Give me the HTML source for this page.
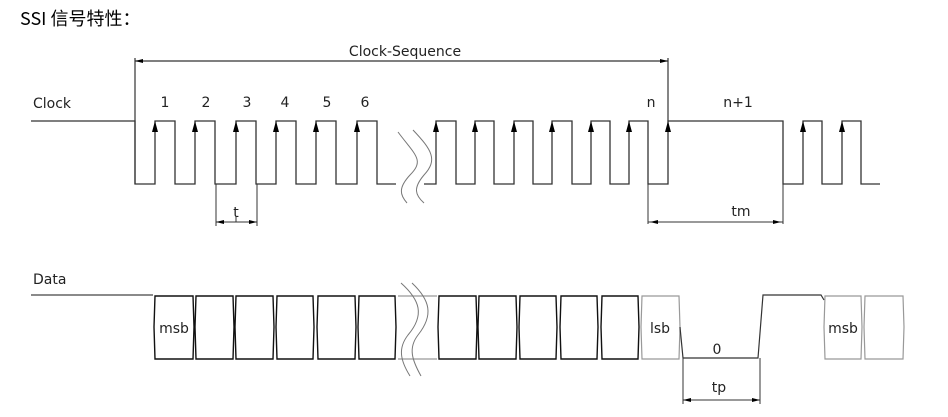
<!DOCTYPE html>
<html><head><meta charset="utf-8"><style>
body{margin:0;background:#fff;width:948px;height:417px;overflow:hidden}
svg{display:block}
.t{font-family:"DejaVu Sans","Liberation Sans",sans-serif;font-size:14px;fill:#222}
</style></head><body>
<svg width="948" height="417" viewBox="0 0 948 417" xmlns="http://www.w3.org/2000/svg">
<text x="20" y="25" style="font-family:'Noto Sans CJK SC',sans-serif;font-size:18px" fill="#000">SSI 信号特性：</text>

<!-- Clock sequence bracket -->
<line x1="135" y1="61" x2="668" y2="61" stroke="#333" stroke-width="1.2"/>
<path d="M135,61 l8,-2 v4 z M668,61 l-8,-2 v4 z" fill="#000"/>
<line x1="135" y1="58" x2="135" y2="184" stroke="#333" stroke-width="1.2"/>
<line x1="668" y1="58" x2="668" y2="121" stroke="#333" stroke-width="1.2"/>
<text class="t" x="405" y="56" text-anchor="middle" font-size="15">Clock-Sequence</text>

<text class="t" x="33" y="108" font-size="15">Clock</text>
<g class="t" text-anchor="middle" font-size="15">
<text x="165" y="107">1</text><text x="206" y="107">2</text><text x="247" y="107">3</text>
<text x="285" y="107">4</text><text x="327" y="107">5</text><text x="365" y="107">6</text>
<text x="651" y="107">n</text><text x="738" y="107">n+1</text>
</g>

<!-- clock waveform -->
<path fill="none" stroke="#333" stroke-width="1.3" d="M31,121 H135 V184 H155 V121 H175 V184 H195 V121 H215 V184 H236 V121 H256 V184 H276 V121 H296 V184 H316 V121 H336 V184 H357 V121 H377 V184 H396
M424,184 H436 V121 H456 V184 H475 V121 H494 V184 H514 V121 H533 V184 H552 V121 H572 V184 H591 V121 H610 V184 H629 V121 H648 V184 H668 V121 H783 V184 H803 V121 H822 V184 H842 V121 H861 V184 H880"/>
<g fill="#000">
<path d="M155,121 l-3,11 h6z M195,121 l-3,11 h6z M236,121 l-3,11 h6z M276,121 l-3,11 h6z M316,121 l-3,11 h6z M357,121 l-3,11 h6z M436,121 l-3,11 h6z M475,121 l-3,11 h6z M514,121 l-3,11 h6z M552,121 l-3,11 h6z M591,121 l-3,11 h6z M629,121 l-3,11 h6z M668,121 l-3,11 h6z M803,121 l-3,11 h6z M842,121 l-3,11 h6z"/>
</g>
<path fill="none" stroke="#777" stroke-width="1" d="M398,132 C415,155 425,160 410,175 C398,188 400,195 407,203 M413,130 C432,150 438,160 424,175 C413,188 415,195 424,203"/>

<!-- t dimension -->
<path stroke="#333" stroke-width="1" fill="none" d="M216,184 V226 M257,184 V226 M216,222 H257 M236,216 V222"/>
<path d="M216,222 l8,-2 v4z M257,222 l-8,-2 v4z" fill="#000"/>
<text class="t" x="236" y="217" text-anchor="middle" font-size="12">t</text>
<!-- tm -->
<path stroke="#333" stroke-width="1" fill="none" d="M648,184 V224 M783,184 V224 M648,222 H783"/>
<path d="M650,222 l8,-2 v4z M781,222 l-8,-2 v4z" fill="#000"/>
<text class="t" x="741" y="216" text-anchor="middle" font-size="15">tm</text>

<!-- Data -->
<text class="t" x="33" y="284" font-size="15">Data</text>
<line x1="31" y1="295" x2="153" y2="295" stroke="#444" stroke-width="1.2"/>
<g fill="#fff" stroke="#111" stroke-width="1.4">
<path d="M155,296 H193 L194,327 L193,359 H155 L154,327 Z"/>
<path d="M196,296 H233 L234,327 L233,359 H196 L195,327 Z"/>
<path d="M236,296 H273 L274,327 L273,359 H236 L235,327 Z"/>
<path d="M277,296 H313 L314,327 L313,359 H277 L276,327 Z"/>
<path d="M318,296 H355 L356,327 L355,359 H318 L317,327 Z"/>
<path d="M359,296 H395 L396,327 L395,359 H359 L358,327 Z"/>
<path d="M439,296 H476 L477,327 L476,359 H439 L438,327 Z"/>
<path d="M479,296 H516 L517,327 L516,359 H479 L478,327 Z"/>
<path d="M520,296 H556 L557,327 L556,359 H520 L519,327 Z"/>
<path d="M561,296 H597 L598,327 L597,359 H561 L560,327 Z"/>
<path d="M602,296 H638 L639,327 L638,359 H602 L601,327 Z"/>
</g>
<g fill="#fff" stroke="#999" stroke-width="1.2">
<path d="M398,296 H437 M398,359 H437"/>
<path d="M642,296 H679 L680,327 L679,359 H642 L641,327 Z"/>
<path d="M825,296 H861 L862,327 L861,359 H825 L824,327 Z"/>
<path d="M865,296 H903 L904,327 L903,359 H865 L864,327 Z"/>
</g>
<path fill="none" stroke="#333" stroke-width="1.2" d="M680,327 L683,358 H758 L763,295 H821 L824,300"/>
<path fill="none" stroke="#777" stroke-width="1" d="M401,283 C420,300 425,315 408,335 C398,348 400,360 410,376 M412,283 C430,300 434,315 418,335 C408,348 412,360 421,376"/>
<text class="t" x="174" y="333" text-anchor="middle" font-size="13">msb</text>
<text class="t" x="660" y="333" text-anchor="middle" font-size="13">lsb</text>
<text class="t" x="843" y="333" text-anchor="middle" font-size="13">msb</text>
<text class="t" x="717" y="354" text-anchor="middle">0</text>
<!-- tp -->
<path stroke="#333" stroke-width="1" fill="none" d="M683,358 V404 M760,358 V404 M683,400 H760"/>
<path d="M683,400 l8,-2 v4z M760,400 l-8,-2 v4z" fill="#000"/>
<text class="t" x="719" y="392" text-anchor="middle" font-size="15">tp</text>
</svg>
</body></html>
